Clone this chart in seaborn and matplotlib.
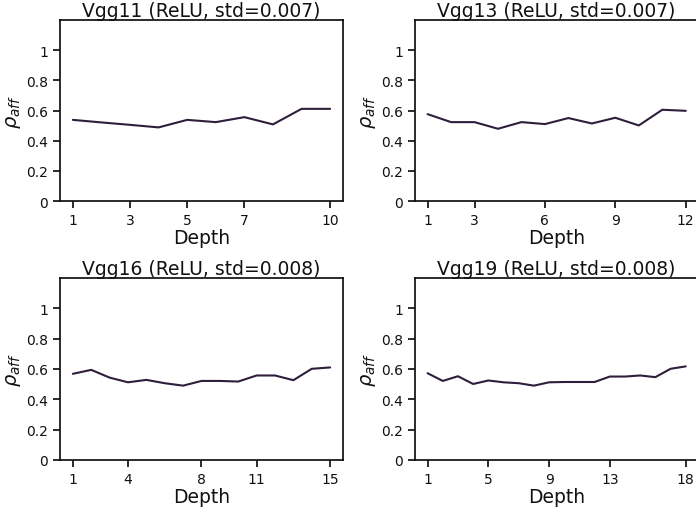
import matplotlib
matplotlib.use("Agg")
import matplotlib.pyplot as plt
import seaborn as sns
import pandas as pd

titles = ["Vgg11 (ReLU, std=0.007)", "Vgg13 (ReLU, std=0.007)",
          "Vgg16 (ReLU, std=0.008)", "Vgg19 (ReLU, std=0.008)"]
vgg11 = [0.538, 0.521, 0.505, 0.488, 0.538, 0.523, 0.556, 0.508, 0.611, 0.611]
vgg13 = [0.576, 0.523, 0.523, 0.479, 0.523, 0.510, 0.550, 0.514, 0.552, 0.501, 0.605, 0.598]
vgg16 = [0.568, 0.594, 0.543, 0.512, 0.528, 0.506, 0.490, 0.521, 0.521, 0.517,
         0.557, 0.557, 0.526, 0.601, 0.610]
vgg19 = [0.572, 0.521, 0.552, 0.501, 0.524, 0.512, 0.506, 0.490, 0.512, 0.514,
         0.514, 0.514, 0.550, 0.550, 0.557, 0.546, 0.601, 0.617]
xticks = [[1, 3, 5, 7, 10], [1, 3, 6, 9, 12], [1, 4, 8, 11, 15], [1, 5, 9, 13, 18]]
yticks = [0, 0.2, 0.4, 0.6, 0.8, 1]
ytick_labels = ["0", "0.2", "0.4", "0.6", "0.8", "1"]

sns.set_theme(style="ticks")
plt.rcParams['font.family'] = ['DejaVu Sans']
plt.rcParams['axes.linewidth'] = 1.25
plt.rcParams['xtick.major.width'] = 1.25
plt.rcParams['ytick.major.width'] = 1.25
plt.rcParams['xtick.major.size'] = 5
plt.rcParams['ytick.major.size'] = 5

fig = plt.figure(figsize=(6.96, 5.10), dpi=100)
rects = [[0.0862, 0.6039, 0.4066, 0.3549],
         [0.5958, 0.6039, 0.4080, 0.3549],
         [0.0862, 0.0961, 0.4066, 0.3570],
         [0.5958, 0.0961, 0.4080, 0.3570]]
series = [vgg11, vgg13, vgg16, vgg19]
color = "#2e1e3b"
ink = "#111111"
for i in range(4):
    ax = fig.add_axes(rects[i])
    vals = series[i]
    df = pd.DataFrame({"Depth": list(range(1, len(vals) + 1)), "rho": vals})
    sns.lineplot(data=df, x="Depth", y="rho", ax=ax, color=color, linewidth=1.5)
    ax.set_ylim(0, 1.2)
    ax.set_yticks(yticks)
    ax.set_yticklabels(ytick_labels)
    ax.set_xticks(xticks[i])
    ax.set_xticklabels([str(v) for v in xticks[i]])
    ax.tick_params(labelsize=10, colors=ink, labelcolor=ink)
    ax.set_xlabel("Depth", fontsize=13.5, labelpad=1, color=ink)
    ax.set_ylabel(r"$\rho_{aff}$", fontsize=14, labelpad=2, color=ink)
    ax.set_title(titles[i], fontsize=13.5, pad=2, color=ink)
    for s in ax.spines.values():
        s.set_color(ink)

fig.savefig("out.png", dpi=100)
